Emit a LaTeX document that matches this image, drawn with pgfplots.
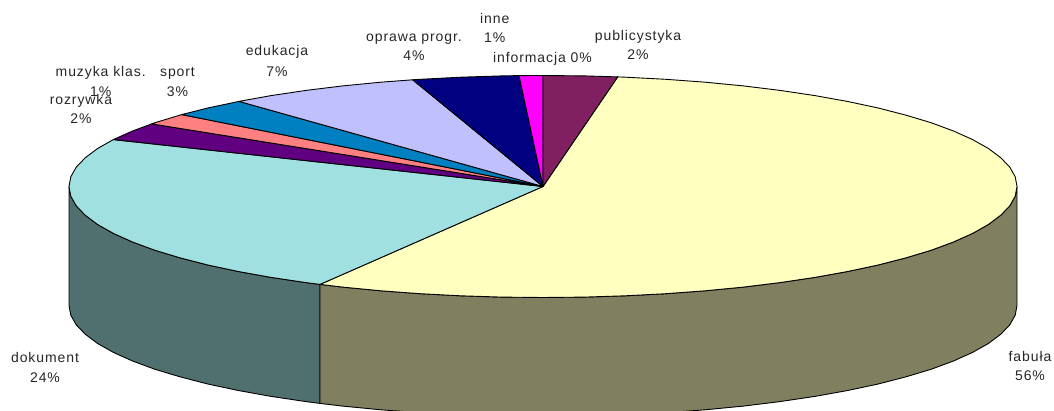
\documentclass[border=0pt]{standalone}
\usepackage{pgfplots}
\usepackage{fontspec}
\setmainfont[LetterSpace=6.5]{Liberation Sans}
\pgfplotsset{compat=1.18}
\definecolor{cYellow}{HTML}{FFFFC0}
\definecolor{cTeal}{HTML}{A0E0E0}
\definecolor{cPurple}{HTML}{600080}
\definecolor{cPink}{HTML}{FF8080}
\definecolor{cBlue}{HTML}{0080C0}
\definecolor{cLav}{HTML}{C0C0FF}
\definecolor{cNavy}{HTML}{000080}
\definecolor{cMag}{HTML}{FF00FF}
\definecolor{cPlum}{HTML}{802060}
\definecolor{cOlive}{HTML}{808060}
\definecolor{cDTeal}{HTML}{507070}
\newcommand{\lab}[3]{\node[anchor=base,inner sep=0pt,text=black!85,font=\fontsize{14}{16}\selectfont] at (axis cs:#1,#2) {#3};}
\begin{document}
\begin{tikzpicture}
\path[use as bounding box] (0,0) rectangle (1054pt,411pt);
\begin{axis}[
  at={(0,0)},anchor=south west,
  width=1054pt,height=411pt,scale only axis,hide axis,
  xmin=0,xmax=1054,ymin=0,ymax=411,y dir=reverse,
  clip=true,
  every axis plot/.append style={line width=0.9pt,line join=round}
]
% side walls
\addplot[fill=cDTeal,draw=black] coordinates {
(69,186.5)(69,305.5)(70.8,315.2)(76.2,324.8)(85.2,334.2)(97.6,343.5)(113.4,352.4)(132.5,361)(154.7,369.2)(179.9,376.8)(207.8,384)(238.3,390.5)(271.1,396.4)(306,401.6)(320,403.4)
(320,284.4)(306,282.6)(271.1,277.4)(238.3,271.5)(207.8,265)(179.9,257.8)(154.7,250.2)(132.5,242)(113.4,233.4)(97.6,224.5)(85.2,215.2)(76.2,205.8)(70.8,196.2)
} -- cycle;
\addplot[fill=cOlive,draw=black] coordinates {
(320,284.4)(320,403.4)(342.7,406.1)(380.9,409.8)(420.3,412.7)(460.7,414.8)(501.7,416.1)(543,416.5)(584.3,416.1)(625.3,414.8)(665.7,412.7)(705.1,409.8)(743.3,406.1)(780,401.6)(814.9,396.4)(847.7,390.5)(878.2,384)(906.1,376.8)(931.3,369.2)(953.5,361)(972.6,352.4)(988.4,343.5)(1000.8,334.2)(1009.8,324.8)(1015.2,315.2)(1017,305.5)
(1017,186.5)(1015.2,196.2)(1009.8,205.8)(1000.8,215.2)(988.4,224.5)(972.6,233.4)(953.5,242)(931.3,250.2)(906.1,257.8)(878.2,265)(847.7,271.5)(814.9,277.4)(780,282.6)(743.3,287.1)(705.1,290.8)(665.7,293.7)(625.3,295.8)(584.3,297.1)(543,297.5)(501.7,297.1)(460.7,295.8)(420.3,293.7)(380.9,290.8)(342.7,287.1)
} -- cycle;
% top slices
\addplot[fill=cYellow,draw=black] coordinates {
(543,186.5)(320,284.4)(342.7,287.1)(380.9,290.8)(420.3,293.7)(460.7,295.8)(501.7,297.1)(543,297.5)(584.3,297.1)(625.3,295.8)(665.7,293.7)(705.1,290.8)(743.3,287.1)(780,282.6)(814.9,277.4)(847.7,271.5)(878.2,265)(906.1,257.8)(931.3,250.2)(953.5,242)(972.6,233.4)(988.4,224.5)(1000.8,215.2)(1009.8,205.8)(1015.2,196.2)(1017,186.5)(1015.2,176.8)(1009.8,167.2)(1000.8,157.8)(988.4,148.5)(972.6,139.6)(953.5,131)(931.3,122.8)(906.1,115.2)(878.2,108)(847.7,101.5)(814.9,95.6)(780,90.4)(743.3,85.9)(705.1,82.2)(665.7,79.3)(625.3,77.2)(617.7,76.9)
} -- cycle;
\addplot[fill=cTeal,draw=black] coordinates {
(543,186.5)(113.3,139.6)(97.6,148.5)(85.2,157.8)(76.2,167.2)(70.8,176.8)(69,186.5)(70.8,196.2)(76.2,205.8)(85.2,215.2)(97.6,224.5)(113.4,233.4)(132.5,242)(154.7,250.2)(179.9,257.8)(207.8,265)(238.3,271.5)(271.1,277.4)(306,282.6)(320,284.4)
} -- cycle;
\addplot[fill=cPurple,draw=black] coordinates {(543,186.5)(151.7,123.9)(132.5,131)(113.3,139.6)} -- cycle;
\addplot[fill=cPink,draw=black] coordinates {(543,186.5)(181.7,114.6)(154.7,122.8)(151.7,123.9)} -- cycle;
\addplot[fill=cBlue,draw=black] coordinates {(543,186.5)(239,101.4)(207.8,108)(181.7,114.6)} -- cycle;
\addplot[fill=cLav,draw=black] coordinates {(543,186.5)(412.7,79.8)(380.9,82.2)(342.7,85.9)(306,90.4)(271.1,95.6)(239,101.4)} -- cycle;
\addplot[fill=cNavy,draw=black] coordinates {(543,186.5)(519,75.6)(501.7,75.9)(460.7,77.2)(420.3,79.3)(412.7,79.8)} -- cycle;
\addplot[fill=cMag,draw=black] coordinates {(543,186.5)(543,75.5)(519,75.6)} -- cycle;
\addplot[fill=cPlum,draw=black] coordinates {(543,186.5)(617.7,76.9)(584.3,75.9)(543,75.5)} -- cycle;
% labels
\lab{100.7}{76.7}{muzyka klas.}
\lab{100.7}{97}{1\%}
\lab{81}{104.7}{rozrywka}
\lab{81}{124}{2\%}
\lab{177.5}{77}{sport}
\lab{177.5}{97}{3\%}
\lab{277}{56}{edukacja}
\lab{277}{76.7}{7\%}
\lab{414}{41.7}{oprawa progr.}
\lab{414}{61}{4\%}
\lab{494.7}{23.3}{inne}
\lab{494.7}{42.3}{1\%}
\lab{542.5}{62.3}{informacja 0\%}
\lab{638}{40.7}{publicystyka}
\lab{638}{60}{2\%}
\lab{45}{362.7}{dokument}
\lab{45}{382}{24\%}
\lab{1030}{361}{fabuła}
\lab{1030}{380}{56\%}
\end{axis}
\end{tikzpicture}
\end{document}
